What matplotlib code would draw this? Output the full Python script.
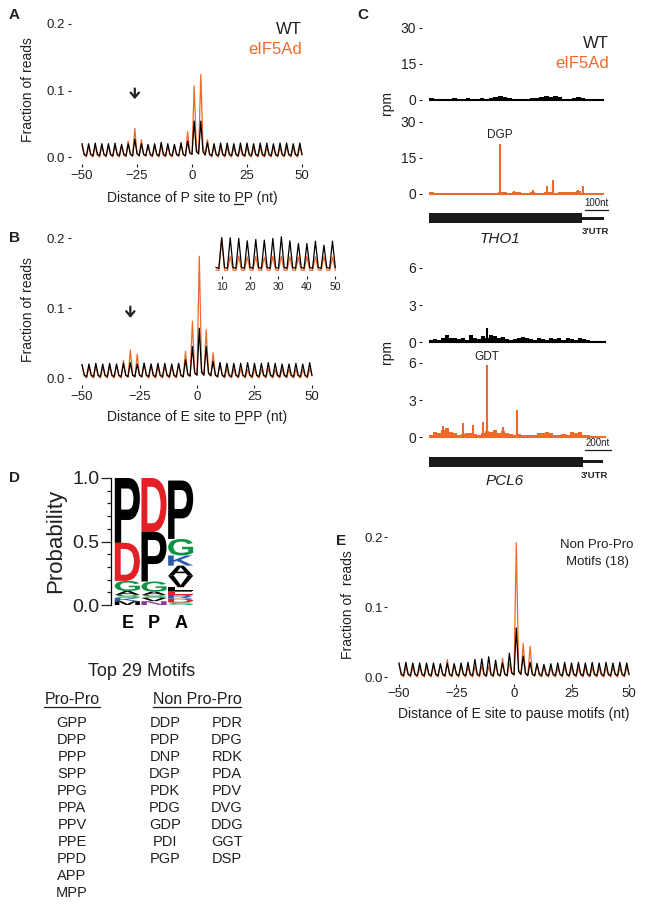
import numpy as np
import matplotlib
matplotlib.use("Agg")
import matplotlib.pyplot as plt
from matplotlib.patches import PathPatch, Rectangle
from matplotlib.textpath import TextPath
from matplotlib.font_manager import FontProperties
from matplotlib.transforms import Affine2D
from matplotlib.lines import Line2D

plt.rcParams["font.family"] = ["Liberation Sans", "DejaVu Sans"]

W, H = 645, 906
ORANGE = "#EF6A2A"
INK = "#231F20"

# ---------------- data ----------------
pos = np.arange(-50, 51)            # nt, -50..50
inset_pos = np.arange(8, 51)        # nt, 8..50

# panel A: P site to PP
a_wt = [
    .020, .004, .002, .020, .004, .002, .021, .004, .002, .020, .004, .002,
    .020, .004, .002, .021, .004, .002, .019, .004, .002, .020, .004, .002,
    .027, .005, .002, .020, .004, .002, .019, .004, .002, .020, .004, .002,
    .022, .004, .002, .020, .004, .002, .019, .004, .002, .021, .004, .002,
    .024, .006, .004, .054, .008, .005, .054, .008, .003, .022, .004, .002,
    .020, .004, .002, .021, .004, .002, .021, .004, .002, .020, .004, .002,
    .021, .004, .002, .021, .004, .002, .020, .004, .002, .021, .004, .002,
    .021, .004, .002, .020, .004, .002, .021, .004, .002, .021, .004, .002,
    .020, .004, .002, .021, .004,
]
a_ko = [
    .017, .003, .000, .016, .003, .000, .016, .003, .000, .017, .003, .000,
    .016, .003, .000, .017, .003, .000, .018, .003, .000, .024, .004, .001,
    .043, .006, .001, .026, .004, .001, .018, .003, .000, .016, .003, .000,
    .017, .003, .000, .016, .003, .000, .017, .003, .001, .022, .004, .001,
    .038, .008, .004, .107, .012, .004, .124, .014, .003, .026, .004, .000,
    .016, .003, .000, .015, .003, .000, .015, .003, .000, .015, .003, .000,
    .014, .003, .000, .015, .003, .000, .014, .003, .000, .015, .003, .000,
    .014, .003, .000, .015, .003, .000, .014, .003, .000, .015, .003, .000,
    .014, .003, .000, .015, .003,
]

# panel B: E site to PPP
b_wt = [
    .019, .004, .002, .020, .004, .002, .021, .004, .002, .020, .004, .002,
    .021, .004, .002, .020, .004, .002, .021, .004, .002, .022, .004, .002,
    .020, .004, .002, .021, .004, .002, .020, .004, .002, .021, .004, .002,
    .021, .004, .002, .020, .004, .002, .021, .004, .002, .026, .005, .003,
    .045, .007, .004, .071, .008, .004, .045, .007, .003, .024, .004, .002,
    .022, .004, .002, .021, .004, .002, .021, .004, .002, .021, .004, .002,
    .022, .004, .002, .021, .004, .002, .021, .004, .002, .022, .004, .002,
    .021, .004, .002, .020, .004, .002, .020, .004, .002, .021, .004, .002,
    .020, .004, .002, .022, .004,
]
b_ko = [
    .019, .003, .000, .016, .003, .000, .017, .003, .000, .016, .003, .000,
    .017, .003, .000, .018, .003, .000, .025, .004, .001, .040, .005, .001,
    .034, .004, .001, .022, .003, .000, .020, .003, .000, .016, .003, .000,
    .017, .003, .000, .016, .003, .000, .020, .003, .001, .038, .005, .002,
    .081, .008, .004, .174, .012, .004, .069, .008, .003, .036, .004, .001,
    .020, .003, .000, .013, .003, .000, .013, .003, .000, .013, .003, .000,
    .012, .003, .000, .013, .003, .000, .012, .003, .000, .013, .003, .000,
    .012, .003, .000, .013, .003, .000, .012, .003, .000, .012, .003, .000,
    .012, .003, .000, .013, .003,
]

# panel B inset: 8..50 nt, expanded scale
inset_wt = [
    .0045, .0040,
    .0220, .0045, .0040, .0220, .0045, .0040, .0216, .0045, .0040,
    .0202, .0045, .0040, .0210, .0045, .0040, .0206, .0045, .0040,
    .0216, .0045, .0040, .0226, .0045, .0040, .0202, .0045, .0040,
    .0186, .0045, .0040, .0186, .0045, .0040, .0200, .0045, .0040,
    .0176, .0045, .0040, .0200, .0045,
]
inset_ko = [
    .0030, .0028,
    .0220, .0030, .0028, .0110, .0030, .0028, .0112, .0030, .0028,
    .0108, .0030, .0028, .0110, .0030, .0028, .0105, .0030, .0028,
    .0110, .0030, .0028, .0112, .0030, .0028, .0108, .0030, .0028,
    .0105, .0030, .0028, .0110, .0030, .0028, .0108, .0030, .0028,
    .0110, .0030, .0028, .0105, .0030,
]

# panel E: E site to non Pro-Pro pause motifs
e_wt = [
    .020, .004, .002, .021, .004, .002, .020, .004, .002, .020, .004, .002,
    .020, .004, .002, .020, .004, .002, .019, .004, .002, .020, .004, .002,
    .019, .004, .002, .020, .004, .002, .021, .004, .002, .025, .004, .002,
    .026, .004, .002, .029, .004, .002, .024, .004, .002, .020, .004, .002,
    .034, .006, .003, .070, .008, .004, .030, .005, .002, .021, .004, .002,
    .019, .004, .002, .018, .004, .002, .019, .004, .002, .020, .004, .002,
    .021, .004, .002, .020, .004, .002, .021, .004, .002, .020, .004, .002,
    .021, .004, .002, .020, .004, .002, .021, .004, .002, .020, .004, .002,
    .021, .004, .002, .020, .004,
]
e_ko = [
    .018, .003, .000, .014, .003, .000, .014, .003, .000, .014, .003, .000,
    .015, .003, .000, .016, .003, .000, .018, .003, .000, .025, .003, .000,
    .018, .003, .000, .016, .003, .000, .014, .003, .000, .015, .003, .000,
    .016, .003, .000, .015, .003, .000, .017, .003, .001, .027, .004, .001,
    .020, .006, .003, .192, .010, .003, .048, .006, .002, .044, .004, .001,
    .020, .003, .000, .014, .003, .000, .013, .003, .000, .013, .003, .000,
    .014, .003, .000, .013, .003, .000, .013, .003, .000, .014, .003, .000,
    .013, .003, .000, .013, .003, .000, .013, .003, .000, .014, .003, .000,
    .013, .003, .000, .014, .003,
]

# panel C: THO1 (20 nt bins over 0-760 nt) and PCL6 (30 nt bins over 0-1320 nt), rpm
tho1_wt = [0.9, 0.5, 0.4, 0.6, 0.4, 0.7, 0.5, 0.6, 0.8, 0.6, 0.5, 0.7, 0.6,
           0.9, 1.3, 1.8, 1.2, 0.8, 0.6, 0.5, 0.6, 0.4, 0.7, 0.9, 1.2, 1.6,
           1.3, 1.7, 1.1, 0.6, 0.5, 0.7, 1.3, 1.0, 0.4, 0.1, 0.0, 0.0]
tho1_ko = [0.7, 0.5, 0.4, 0.5, 0.4, 0.5, 0.4, 0.6, 0.5, 0.6, 0.4, 0.5, 0.6,
           0.5, 0.6, 0.7, 0.8, 0.6, 0.9, 0.7, 0.5, 0.6, 0.7, 0.5, 0.6, 0.7,
           0.8, 0.6, 0.9, 0.7, 0.8, 1.0, 1.1, 0.6, 0.3, 0.1, 0.0, 0.0]
tho1_ko_spike_nt = [310, 370, 452, 513, 539, 583, 648, 670]
tho1_ko_spike_rpm = [20.8, 1.2, 1.5, 3.2, 5.9, 1.0, 1.5, 3.4]

pcl6_wt = [0.2, 0.25, 0.2, 0.3, 0.6, 0.35, 0.3, 0.25, 0.3, 0.2, 0.55, 0.3,
           0.25, 0.45, 0.35, 0.6, 0.5, 0.3, 0.4, 0.25, 0.2, 0.25, 0.3, 0.4,
           0.3, 0.25, 0.2, 0.35, 0.25, 0.2, 0.3, 0.25, 0.3, 0.2, 0.3, 0.25,
           0.2, 0.3, 0.25, 0.15, 0.05, 0.0, 0.0, 0.0]
pcl6_wt_spike_nt = [433]
pcl6_wt_spike_rpm = [1.1]
pcl6_ko = [0.2, 0.4, 0.3, 0.6, 0.7, 0.4, 0.3, 0.2, 0.25, 0.3, 0.3, 0.25,
           0.2, 0.35, 0.5, 0.4, 0.6, 0.3, 0.5, 0.3, 0.25, 0.2, 0.25, 0.2,
           0.2, 0.2, 0.2, 0.3, 0.35, 0.4, 0.3, 0.2, 0.2, 0.25, 0.2, 0.4,
           0.3, 0.4, 0.2, 0.15, 0.1, 0.05, 0.05, 0.0]
pcl6_ko_spike_nt = [103, 256, 326, 403, 433, 549, 654]
pcl6_ko_spike_rpm = [0.9, 1.1, 1.0, 1.2, 5.8, 0.8, 2.2]

# panel D: sequence logo, letters listed bottom to top
logo_sites = ["E", "P", "A"]
logo_e_letters = ["M", "K", "S", "A", "G", "D", "P"]
logo_e_probs = [0.03, 0.025, 0.025, 0.03, 0.08, 0.30, 0.51]
logo_p_letters = ["N", "V", "S", "A", "G", "P", "D"]
logo_p_probs = [0.03, 0.025, 0.025, 0.025, 0.08, 0.39, 0.425]
logo_a_letters = ["S", "D", "R", "E", "L", "V", "A", "K", "G", "P"]
logo_a_probs = [0.02, 0.03, 0.03, 0.03, 0.03, 0.09, 0.08, 0.08, 0.13, 0.46]

pro_pro = ["GPP", "DPP", "PPP", "SPP", "PPG", "PPA", "PPV", "PPE", "PPD", "APP", "MPP"]
non_pro_1 = ["DDP", "PDP", "DNP", "DGP", "PDK", "PDG", "GDP", "PDI", "PGP"]
non_pro_2 = ["PDR", "DPG", "RDK", "PDA", "PDV", "DVG", "DDG", "GGT", "DSP"]

# ---------------- helpers ----------------
fig = plt.figure(figsize=(W / 100, H / 100), dpi=100)


def px_axes(l, t, r, b):
    return fig.add_axes([l / W, 1 - b / H, (r - l) / W, (b - t) / H])


def ftext(x, y, s, **kw):
    kw.setdefault("color", INK)
    return fig.text(x / W, 1 - y / H, s, **kw)


def bare(ax):
    for sp in ax.spines.values():
        sp.set_visible(False)


def underline(t, start=None, stop=None, dy=1.5, lw=0.9):
    fig.canvas.draw()
    r = fig.canvas.get_renderer()
    bb = t.get_window_extent(r)
    s = t.get_text()
    if start is None:
        x0, x1 = bb.x0, bb.x1
    else:
        fp = t.get_fontproperties()
        w = lambda q: r.get_text_width_height_descent(q, fp, ismath=False)[0]
        x1 = bb.x0 + w(s[:stop])
        x0 = x1 - w(s[start:stop])
    y = bb.y0 + dy
    fig.add_artist(Line2D([x0 / W, x1 / W], [y / H, y / H], color=INK, lw=lw,
                          transform=fig.transFigure))


def down_arrow(ax, x, y_top, y_tip):
    ax.annotate("", xy=(x, y_tip), xytext=(x, y_top),
                arrowprops=dict(arrowstyle="->,head_width=0.3,head_length=0.35",
                                lw=1.6, color=INK, shrinkA=0, shrinkB=0))


def profile(box, xlim, ylim, wt, ko, pad=2):
    ax = px_axes(*box)
    ax.plot(pos, ko, color=ORANGE, lw=0.9)
    ax.plot(pos, wt, color="black", lw=0.9)
    ax.set_xlim(xlim)
    ax.set_ylim(ylim)
    bare(ax)
    ax.set_xticks([-50, -25, 0, 25, 50])
    ax.set_yticks([0, 0.1, 0.2], ["0.0", "0.1", "0.2"])
    ax.tick_params(length=2.2, width=0.8, labelsize=9.5, pad=pad, colors=INK)
    return ax


# ---------------- panel A ----------------
ax_a = profile((71, 21, 313, 164), (-55, 55), (-0.0105, 0.2045), a_wt, a_ko)
down_arrow(ax_a, -26, 0.103, 0.087)
ftext(302, 29, "WT", ha="right", va="center", size=12)
ftext(302, 50, "eIF5Ad", ha="right", va="center", size=12, color=ORANGE)
ftext(28, 90, "Fraction of reads", rotation=90, ha="center", va="center", size=10)
lab_a = ftext(192, 198, "Distance of P site to PP (nt)", ha="center", va="center", size=10)

# ---------------- panel B ----------------
ax_b = profile((71, 235, 323, 385), (-54.8, 54.8), (-0.01, 0.2043), b_wt, b_ko)
down_arrow(ax_b, -29, 0.102, 0.086)
ftext(28, 310, "Fraction of reads", rotation=90, ha="center", va="center", size=10)
lab_b = ftext(197, 417, "Distance of E site to PPP (nt)", ha="center", va="center", size=10)

ax_in = px_axes(214, 234, 338, 276)
ax_in.plot(inset_pos, inset_ko, color=ORANGE, lw=0.9)
ax_in.plot(inset_pos, inset_wt, color="black", lw=0.9)
ax_in.set_xlim(7.29, 50.95)
ax_in.set_ylim(-0.0005, 0.0242)
bare(ax_in)
ax_in.set_yticks([])
ax_in.set_xticks([10, 20, 30, 40, 50])
ax_in.tick_params(length=2.2, width=0.8, labelsize=7.5, pad=2, colors=INK)

# ---------------- panel C ----------------
def track(box, xlim, ylim, yticks, edges, vals, snt, srpm, color, end):
    ax = px_axes(*box)
    ax.fill_between(edges, np.append(vals, vals[-1]), 0, step="post",
                    color=color, lw=0)
    ax.vlines(snt, 0, srpm, color=color, lw=1.5)
    ax.hlines(0, 0, end, color=color, lw=1.5)
    ax.set_xlim(xlim)
    ax.set_ylim(ylim)
    bare(ax)
    ax.set_xticks([])
    ax.set_yticks(yticks)
    ax.tick_params(length=2.2, width=0.8, labelsize=10, pad=2, colors=INK)
    return ax


tho1_edges = np.arange(0, 761, 20)
pcl6_edges = np.arange(0, 1321, 30)

track((422, 26, 606, 102.4), (-30.4, 769.6), (-1, 30.8), [0, 15, 30],
      tho1_edges, tho1_wt, [], [], "black", 760)
ax_t2 = track((422, 120, 606, 196.4), (-30.4, 769.6), (-1, 30.8), [0, 15, 30],
              tho1_edges, tho1_ko, tho1_ko_spike_nt, tho1_ko_spike_rpm, ORANGE, 760)
ax_t2.text(310, 24.6, "DGP", ha="center", va="center", size=8.5, color=INK)

track((422, 266, 606, 344.5), (-53.8, 1323), (-0.2, 6.16), [0, 3, 6],
      pcl6_edges, pcl6_wt, pcl6_wt_spike_nt, pcl6_wt_spike_rpm, "black", 1320)
ax_p2 = track((422, 361, 606, 439.5), (-53.8, 1323), (-0.2, 6.16), [0, 3, 6],
              pcl6_edges, pcl6_ko, pcl6_ko_spike_nt, pcl6_ko_spike_rpm, ORANGE, 1320)
ax_p2.text(433, 6.5, "GDT", ha="center", va="center", size=8.5, color=INK)

ftext(387, 103, "rpm", rotation=90, ha="center", va="center", size=10)
ftext(387, 352, "rpm", rotation=90, ha="center", va="center", size=10)
ftext(609, 43, "WT", ha="right", va="center", size=12)
ftext(609, 63, "eIF5Ad", ha="right", va="center", size=12, color=ORANGE)


def gene(box, xlim, cds_end, utr_end, bar_y, sb, sb_y, sb_text, name, name_x, name_y):
    ax = px_axes(*box)
    ax.set_xlim(xlim)
    ax.set_ylim(box[3], box[1])
    ax.axis("off")
    ax.add_patch(Rectangle((0, bar_y - 5), cds_end, 10, color="#1A1A1A", lw=0))
    ax.add_patch(Rectangle((cds_end, bar_y - 1.5), utr_end - cds_end, 3,
                           color="#1A1A1A", lw=0))
    ax.plot(sb, [sb_y, sb_y], color=INK, lw=0.9)
    ax.text(np.mean(sb), sb_y - 1.5, sb_text, ha="center", va="bottom", size=7, color=INK)
    ax.text(np.mean([cds_end, utr_end]) + 10, bar_y + 14, "3'UTR", ha="center",
            va="center", size=6.8, weight="bold", color=INK)
    ax.text(name_x, name_y, name, ha="center", va="center", size=11,
            style="italic", color=INK)


gene((422, 198, 625, 246), (-30.4, 852), 665, 760, 218, [678, 778], 209.5,
     "100nt", "THO1", 309, 239)
gene((422, 440, 625, 490), (-53.8, 1508), 1185, 1338, 462, [1200, 1400], 450,
     "200nt", "PCL6", 585, 481)

# ---------------- panel D ----------------
LOGO_COLORS = {"P": "black", "A": "black", "V": "black", "M": "black", "L": "black",
               "D": "#E41F26", "E": "#E41F26",
               "G": "#0F9447", "S": "#0F9447", "T": "#0F9447",
               "K": "#2B5BA8", "R": "#2B5BA8",
               "N": "#8B3A96"}
logo_fp = FontProperties(family="Liberation Sans", weight="bold")

ax_d = px_axes(114, 478, 194, 605)
ax_d.set_xlim(0, 3)
ax_d.set_ylim(0, 1)
for i, (letters, probs) in enumerate([(logo_e_letters, logo_e_probs),
                                      (logo_p_letters, logo_p_probs),
                                      (logo_a_letters, logo_a_probs)]):
    y0 = 0.0
    for ch, p in zip(letters, probs):
        tp = TextPath((0, 0), ch, size=1, prop=logo_fp)
        bb = tp.get_extents()
        tr = (Affine2D().translate(-bb.x0, -bb.y0)
              .scale(0.94 / bb.width, p / bb.height).translate(i + 0.03, y0))
        ax_d.add_patch(PathPatch(tr.transform_path(tp), fc=LOGO_COLORS[ch], ec="none"))
        y0 += p
for side in ["top", "right", "bottom"]:
    ax_d.spines[side].set_visible(False)
ax_d.spines["left"].set_position(("outward", 2))
ax_d.spines["left"].set_linewidth(0.9)
ax_d.set_yticks([0, 0.5, 1.0], ["0.0", "0.5", "1.0"])
ax_d.set_yticks(np.arange(0, 1.01, 0.1), minor=True)
ax_d.tick_params(axis="y", which="major", length=7, width=0.9, labelsize=14, pad=1.5, colors=INK)
ax_d.tick_params(axis="y", which="minor", length=3, width=0.9, colors=INK)
ax_d.set_xticks([0.5, 1.5, 2.5], logo_sites)
ax_d.tick_params(axis="x", length=0, labelsize=13, pad=7)
for lab in ax_d.get_xticklabels():
    lab.set_fontweight("bold")
ftext(56, 541, "Probability", rotation=90, ha="center", va="center", size=16)

ftext(142, 672, "Top 29 Motifs", ha="center", va="center", size=13)
h1 = ftext(72, 700, "Pro-Pro", ha="center", va="center", size=11.5)
h2 = ftext(197, 700, "Non Pro-Pro", ha="center", va="center", size=11.5)
for j, m in enumerate(pro_pro):
    ftext(72, 723.3 + 16.95 * j, m, ha="center", va="center", size=10.5)
for j, m in enumerate(non_pro_1):
    ftext(165, 723.3 + 16.95 * j, m, ha="center", va="center", size=10.5)
for j, m in enumerate(non_pro_2):
    ftext(227, 723.3 + 16.95 * j, m, ha="center", va="center", size=10.5)

# ---------------- panel E ----------------
profile((387, 534, 641, 684), (-55.2, 55.2), (-0.01, 0.2043), e_wt, e_ko, pad=0.5)
ftext(348, 605, "Fraction of  reads", rotation=90, ha="center", va="center", size=10)
ftext(514, 714, "Distance of E site to pause motifs (nt)", ha="center", va="center", size=10)
ftext(597, 545, "Non Pro-Pro", ha="center", va="center", size=9.5)
ftext(597, 562, "Motifs (18)", ha="center", va="center", size=9.5)

# ---------------- panel letters ----------------
for s, x, y in [("A", 14, 15), ("B", 14, 238), ("C", 363, 15), ("D", 14, 478), ("E", 341, 541)]:
    ftext(x, y, s, ha="center", va="center", size=11, weight="bold")

underline(lab_a, 22, 23, dy=1.2)
underline(lab_b, 22, 23, dy=1.2)
underline(h1, dy=0.5)
underline(h2, dy=0.5)

fig.savefig("out.png", dpi=100, facecolor="white")
